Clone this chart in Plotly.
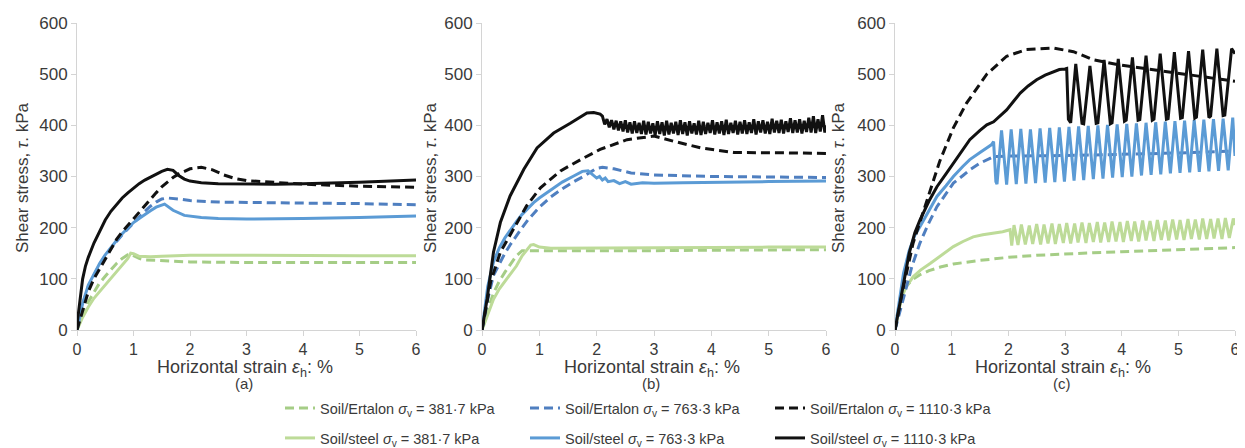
import plotly.graph_objects as go

# ---------------- data (strain %, shear stress kPa) ----------------
# Panel (a)
a_ert_382_x = [0, 0.1, 0.2, 0.3, 0.4, 0.5, 0.6, 0.7, 0.8, 0.9, 0.95, 1.0, 1.1, 1.2, 1.5, 2, 3, 4, 5, 6]
a_ert_382_y = [0, 30, 55, 75, 92, 105, 118, 130, 140, 147, 148, 145, 140, 137, 135, 133, 132, 132, 132, 132]
a_steel_382_x = [0, 0.1, 0.2, 0.3, 0.4, 0.5, 0.6, 0.7, 0.8, 0.9, 0.95, 1.0, 1.1, 1.3, 1.5, 2, 3, 4, 5, 6]
a_steel_382_y = [0, 25, 45, 62, 75, 88, 100, 112, 125, 140, 150, 149, 144, 143, 144, 146, 146, 145, 145, 145]
a_ert_763_x = [0, 0.1, 0.2, 0.3, 0.4, 0.5, 0.6, 0.7, 0.8, 0.9, 1.0, 1.1, 1.2, 1.3, 1.4, 1.5, 1.6, 1.8, 2.0, 2.5, 3, 4, 5, 6]
a_ert_763_y = [0, 50, 85, 108, 128, 145, 160, 173, 186, 198, 210, 222, 232, 242, 250, 256, 258, 256, 253, 250, 249, 248, 247, 245]
a_steel_763_x = [0, 0.1, 0.2, 0.3, 0.4, 0.5, 0.6, 0.7, 0.8, 0.9, 1.0, 1.1, 1.2, 1.3, 1.4, 1.5, 1.55, 1.7, 1.9, 2.2, 2.5, 3, 3.5, 4, 5, 6]
a_steel_763_y = [0, 52, 88, 110, 130, 147, 162, 175, 188, 200, 210, 218, 226, 233, 240, 245, 246, 234, 224, 220, 218, 217, 217, 218, 220, 223]
a_ert_1110_x = [0, 0.1, 0.2, 0.3, 0.4, 0.5, 0.6, 0.7, 0.8, 0.9, 1.0, 1.1, 1.2, 1.3, 1.4, 1.5, 1.6, 1.7, 1.8, 2.0, 2.2, 2.4, 2.6, 2.8, 3.0, 3.5, 4, 5, 6]
a_ert_1110_y = [0, 40, 75, 100, 120, 140, 160, 177, 192, 205, 217, 230, 243, 256, 268, 280, 290, 298, 305, 315, 318, 313, 303, 296, 292, 288, 285, 281, 279]
a_steel_1110_x = [0, 0.05, 0.1, 0.15, 0.2, 0.3, 0.4, 0.5, 0.6, 0.7, 0.8, 0.9, 1.0, 1.1, 1.2, 1.3, 1.4, 1.5, 1.6, 1.7, 1.8, 1.9, 2.0, 2.2, 2.5, 3, 3.5, 4, 4.5, 5, 6]
a_steel_1110_y = [10, 60, 100, 125, 142, 170, 194, 215, 232, 246, 258, 268, 278, 286, 293, 299, 305, 310, 314, 312, 302, 295, 291, 288, 286, 285, 285, 286, 287, 289, 293]

# Panel (b)
b_ert_382_x = [0, 0.1, 0.2, 0.3, 0.4, 0.5, 0.6, 0.7, 0.8, 1.0, 1.5, 2, 3, 4, 5, 6]
b_ert_382_y = [0, 40, 72, 95, 113, 130, 145, 155, 155, 154, 154, 155, 155, 156, 157, 157]
b_steel_382_x = [0, 0.1, 0.2, 0.3, 0.4, 0.5, 0.6, 0.7, 0.8, 0.85, 0.9, 1.0, 1.2, 1.5, 2, 3, 4, 5, 6]
b_steel_382_y = [0, 30, 60, 80, 95, 110, 125, 145, 160, 166, 167, 162, 160, 160, 160, 160, 161, 162, 162]
b_ert_763_x = [0, 0.1, 0.2, 0.3, 0.4, 0.5, 0.6, 0.7, 0.8, 0.9, 1.0, 1.2, 1.4, 1.6, 1.8, 2.0, 2.1, 2.3, 2.6, 3, 3.5, 4, 5, 6]
b_ert_763_y = [0, 60, 107, 130, 150, 168, 185, 200, 215, 228, 240, 260, 276, 290, 302, 316, 318, 315, 307, 303, 301, 300, 299, 298]
b_steel_763_x = [0, 0.1, 0.2, 0.3, 0.4, 0.5, 0.6, 0.7, 0.8, 0.9, 1.0, 1.2, 1.4, 1.6, 1.75, 1.85, 1.95, 2.0, 2.05, 2.1, 2.15, 2.2, 2.3, 2.4, 2.5, 2.6, 2.8, 3, 3.5, 4, 5, 6]
b_steel_763_y = [0, 85, 133, 160, 180, 197, 212, 226, 238, 249, 258, 274, 289, 301, 310, 311, 302, 297, 300, 293, 297, 290, 292, 286, 290, 285, 288, 287, 288, 289, 290, 291]
b_ert_1110_x = [0, 0.15, 0.32, 0.55, 0.78, 1.02, 1.37, 1.72, 2.06, 2.53, 3.0, 3.34, 3.81, 4.39, 4.97, 5.5, 6]
b_ert_1110_y = [0, 94, 152, 197, 243, 278, 311, 333, 353, 372, 379, 369, 356, 347, 347, 346, 345]
b_steel_1110_x = [0, 0.05, 0.09, 0.2, 0.32, 0.49, 0.73, 0.96, 1.25, 1.54, 1.83, 1.95, 2.06,
                  2.10, 2.14, 2.18, 2.22, 2.26, 2.30, 2.34, 2.38, 2.42, 2.46, 2.50, 2.54, 2.58, 2.62,
                  2.66, 2.70, 2.74, 2.78, 2.82, 2.86, 2.90, 2.94, 2.98, 3.02, 3.06, 3.10, 3.14, 3.18,
                  3.22, 3.26, 3.30, 3.34, 3.38, 3.42, 3.46, 3.50, 3.54, 3.58, 3.62, 3.66, 3.70, 3.74,
                  3.78, 3.82, 3.86, 3.90, 3.94, 3.98, 4.02, 4.06, 4.10, 4.14, 4.18, 4.22, 4.26, 4.30,
                  4.34, 4.38, 4.42, 4.46, 4.50, 4.54, 4.58, 4.62, 4.66, 4.70, 4.74, 4.78, 4.82, 4.86,
                  4.90, 4.94, 4.98, 5.02, 5.06, 5.10, 5.14, 5.18, 5.22, 5.26, 5.30, 5.34, 5.38, 5.42,
                  5.46, 5.50, 5.54, 5.58, 5.62, 5.66, 5.70, 5.74, 5.78, 5.82, 5.86, 5.90, 5.94, 5.98, 6.0]
b_steel_1110_y = [0, 30, 61, 152, 210, 262, 314, 356, 385, 404, 424, 425, 422,
                  418, 402, 412, 396, 410, 392, 409, 390, 408, 388, 410, 386, 406, 384,
                  408, 385, 405, 383, 409, 382, 407, 384, 404, 381, 408, 383, 406, 380,
                  409, 382, 405, 384, 407, 381, 410, 383, 406, 380, 408, 384, 404, 382,
                  409, 381, 407, 383, 405, 385, 410, 382, 406, 384, 408, 381, 411, 383,
                  405, 385, 409, 382, 407, 384, 410, 383, 406, 385, 412, 382, 408, 386,
                  410, 384, 407, 383, 413, 386, 409, 385, 411, 384, 408, 387, 414, 385,
                  410, 386, 412, 384, 409, 387, 415, 386, 418, 385, 412, 388, 420, 386, 400]

# Panel (c)
c_ert_382_x = [0, 0.05, 0.1, 0.15, 0.2, 0.3, 0.44, 0.6, 0.8, 1.03, 1.5, 2, 2.5, 3, 3.5, 4, 4.5, 5, 5.5, 6]
c_ert_382_y = [0, 35, 60, 75, 85, 98, 108, 116, 123, 129, 136, 142, 146, 149, 151, 153, 155, 157, 159, 161]
c_steel_382_x = [0, 0.05, 0.1, 0.15, 0.2, 0.32, 0.45, 0.62, 0.8, 1.03, 1.2, 1.38, 1.55, 1.74, 1.9, 2.03,
                 2.06, 2.10, 2.17, 2.23, 2.30, 2.37, 2.43, 2.50, 2.57, 2.63, 2.70, 2.77, 2.83, 2.90,
                 2.97, 3.03, 3.10, 3.17, 3.23, 3.30, 3.37, 3.43, 3.50, 3.57, 3.63, 3.70, 3.77, 3.83,
                 3.90, 3.97, 4.03, 4.10, 4.17, 4.23, 4.30, 4.37, 4.43, 4.50, 4.57, 4.63, 4.70, 4.77,
                 4.83, 4.90, 4.97, 5.03, 5.10, 5.17, 5.23, 5.30, 5.37, 5.43, 5.50, 5.57, 5.63, 5.70,
                 5.77, 5.83, 5.90, 5.97, 6.0]
c_steel_382_y = [0, 30, 55, 72, 85, 104, 117, 130, 145, 163, 173, 182, 186, 189, 192, 196,
                 165, 205, 166, 206, 167, 204, 168, 207, 167, 206, 169, 208, 168, 207,
                 170, 209, 169, 208, 171, 210, 170, 209, 172, 211, 171, 210, 172, 212,
                 173, 211, 172, 213, 174, 212, 173, 214, 175, 213, 174, 215, 176, 214,
                 175, 216, 177, 215, 176, 217, 178, 216, 177, 218, 178, 217, 179, 218,
                 178, 219, 180, 218, 205]
c_ert_763_x = [0, 0.1, 0.2, 0.3, 0.44, 0.6, 0.74, 0.9, 1.03, 1.2, 1.32, 1.5, 1.62, 1.74, 2, 2.5, 3, 3.5, 4, 4.5, 5, 5.5, 6]
c_ert_763_y = [0, 40, 85, 125, 170, 210, 241, 266, 287, 302, 313, 326, 333, 339, 340, 340, 341, 342, 343, 345, 346, 348, 350]
c_steel_763_x = [0, 0.05, 0.1, 0.15, 0.25, 0.35, 0.44, 0.6, 0.74, 0.9, 1.03, 1.2, 1.32, 1.5, 1.62, 1.7, 1.74,
                 1.78, 1.80, 1.88, 1.97, 2.05, 2.14, 2.22, 2.31, 2.39, 2.48, 2.56, 2.65, 2.73, 2.82,
                 2.90, 2.99, 3.07, 3.16, 3.24, 3.33, 3.41, 3.50, 3.58, 3.67, 3.75, 3.84, 3.92, 4.01,
                 4.09, 4.18, 4.26, 4.35, 4.43, 4.52, 4.60, 4.69, 4.77, 4.86, 4.94, 5.03, 5.11, 5.20,
                 5.28, 5.37, 5.45, 5.54, 5.62, 5.71, 5.79, 5.88, 5.96, 6.0]
c_steel_763_y = [0, 35, 75, 111, 155, 185, 202, 235, 261, 282, 300, 320, 333, 347, 355, 362, 368,
                 290, 285, 390, 284, 392, 285, 393, 286, 392, 287, 394, 288, 395, 289,
                 396, 290, 397, 292, 398, 293, 399, 295, 400, 296, 401, 298, 402, 299,
                 403, 300, 404, 302, 405, 303, 406, 304, 407, 306, 408, 307, 409, 308,
                 410, 309, 411, 310, 412, 311, 413, 312, 415, 340]
c_ert_1110_x = [0, 0.08, 0.15, 0.32, 0.56, 0.79, 1.03, 1.26, 1.62, 1.97, 2.32, 2.79, 3.15, 3.5, 3.97, 4.56, 5.15, 5.6, 6]
c_ert_1110_y = [0, 45, 85, 170, 250, 330, 395, 443, 500, 535, 548, 551, 544, 528, 518, 509, 499, 492, 486]
c_steel_1110_x = [0, 0.05, 0.1, 0.15, 0.25, 0.35, 0.44, 0.6, 0.74, 0.9, 1.03, 1.2, 1.32, 1.5, 1.62, 1.74, 1.85,
                  1.97, 2.1, 2.21, 2.35, 2.5, 2.65, 2.79, 2.9, 3.0, 3.03,
                  3.06, 3.10, 3.19, 3.30, 3.33, 3.44, 3.55, 3.58, 3.69, 3.80, 3.83, 3.94, 4.05, 4.08,
                  4.19, 4.29, 4.32, 4.43, 4.54, 4.57, 4.68, 4.79, 4.82, 4.93, 5.04, 5.07, 5.18, 5.29,
                  5.32, 5.43, 5.54, 5.57, 5.68, 5.79, 5.82, 5.94, 6.0]
c_steel_1110_y = [0, 30, 60, 91, 150, 190, 215, 252, 280, 305, 326, 352, 372, 390, 401, 407, 418,
                  430, 448, 463, 477, 489, 498, 505, 509, 510, 511,
                  412, 405, 520, 404, 403, 516, 404, 405, 528, 403, 405, 530, 408, 410,
                  533, 410, 411, 536, 410, 412, 540, 412, 413, 543, 414, 415, 545, 414,
                  416, 548, 415, 418, 550, 419, 420, 550, 540]

x_ticks = [0, 1, 2, 3, 4, 5, 6]
y_ticks = [0, 100, 200, 300, 400, 500, 600]
panel_labels = ["(a)", "(b)", "(c)"]
series_names = [
    "Soil/Ertalon <i>σ</i><sub>v</sub> = 381·7 kPa",
    "Soil/Ertalon <i>σ</i><sub>v</sub> = 763·3 kPa",
    "Soil/Ertalon <i>σ</i><sub>v</sub> = 1110·3 kPa",
    "Soil/steel <i>σ</i><sub>v</sub> = 381·7 kPa",
    "Soil/steel <i>σ</i><sub>v</sub> = 763·3 kPa",
    "Soil/steel <i>σ</i><sub>v</sub> = 1110·3 kPa",
]

# ---------------- styling ----------------
W, H = 1245, 448
OFF = 8  # the page body margin shifts the figure by 8 px
FONT = "Liberation Sans, Arial, sans-serif"
TXT = "#3a3a3a"
AXC = "#d4d4d4"
GREEN_S, GREEN_D = "#bddb98", "#a5cd86"
BLUE_S, BLUE_D = "#5b9bd5", "#4f7fc0"
BLACK = "#111111"
DASH = "9px,5px"


def px_x(sx):
    return (sx - OFF) / W


def px_y(sy):
    return 1 - (sy - OFF) / H


styles = [
    dict(color=GREEN_D, width=3, dash=DASH),
    dict(color=BLUE_D, width=3, dash=DASH),
    dict(color=BLACK, width=3, dash=DASH),
    dict(color=GREEN_S, width=3),
    dict(color=BLUE_S, width=3),
    dict(color=BLACK, width=3),
]

panels = [
    [(a_ert_382_x, a_ert_382_y), (a_ert_763_x, a_ert_763_y), (a_ert_1110_x, a_ert_1110_y),
     (a_steel_382_x, a_steel_382_y), (a_steel_763_x, a_steel_763_y), (a_steel_1110_x, a_steel_1110_y)],
    [(b_ert_382_x, b_ert_382_y), (b_ert_763_x, b_ert_763_y), (b_ert_1110_x, b_ert_1110_y),
     (b_steel_382_x, b_steel_382_y), (b_steel_763_x, b_steel_763_y), (b_steel_1110_x, b_steel_1110_y)],
    [(c_ert_382_x, c_ert_382_y), (c_ert_763_x, c_ert_763_y), (c_ert_1110_x, c_ert_1110_y),
     (c_steel_382_x, c_steel_382_y), (c_steel_763_x, c_steel_763_y), (c_steel_1110_x, c_steel_1110_y)],
]

# screen-pixel geometry of the three plot areas
x_pix = [(77, 416), (482, 826), (895, 1235)]
y0_pix, y600_pix = 330, 23

fig = go.Figure()
draw_order = [0, 3, 1, 4, 2, 5]
for p, data in enumerate(panels):
    xa = "x" if p == 0 else f"x{p+1}"
    ya = "y" if p == 0 else f"y{p+1}"
    for k in draw_order:
        xs, ys = data[k]
        fig.add_trace(go.Scatter(
            x=xs, y=ys, mode="lines", line=styles[k],
            name=series_names[k], xaxis=xa, yaxis=ya,
            showlegend=(p == 0),
            legend="legend" if k == 0 else f"legend{k+1}",
            hoverinfo="skip",
        ))

layout = dict(
    width=W, height=H, autosize=False,
    margin=dict(l=0, r=0, t=0, b=0, autoexpand=False),
    paper_bgcolor="white", plot_bgcolor="white",
    font=dict(family=FONT, color=TXT, size=16),
)
for p in range(3):
    sx = "" if p == 0 else str(p + 1)
    dom_x = [px_x(x_pix[p][0]), px_x(x_pix[p][1])]
    dom_y = [px_y(y0_pix), px_y(y600_pix)]
    common = dict(
        showgrid=False, zeroline=False, showline=True, linecolor=AXC, linewidth=1,
        ticks="outside", ticklen=5, tickcolor=AXC, fixedrange=True, automargin=False,
    )
    layout[f"xaxis{sx}"] = dict(domain=dom_x, range=[0, 6], tickvals=x_ticks,
                                tickfont=dict(size=16, color=TXT, family=FONT),
                                anchor=f"y{sx}", **common)
    layout[f"yaxis{sx}"] = dict(domain=dom_y, range=[0, 600], tickvals=y_ticks,
                                tickfont=dict(size=17, color=TXT, family=FONT),
                                anchor=f"x{sx}", **common)

annotations = []
ytitle_x = [22, 430, 838]
for p in range(3):
    cx = (x_pix[p][0] + x_pix[p][1]) / 2
    annotations.append(dict(
        text="Shear stress, <i>τ</i>. kPa", textangle=-90, x=px_x(ytitle_x[p]), y=px_y(178),
        xref="paper", yref="paper", showarrow=False, xanchor="center", yanchor="middle",
        font=dict(size=17, color=TXT, family=FONT),
    ))
    annotations.append(dict(
        text="Horizontal strain <i>ε</i><sub>h</sub>: %", x=px_x(cx - 2), y=px_y(368),
        xref="paper", yref="paper", showarrow=False, xanchor="center", yanchor="middle",
        font=dict(size=18, color=TXT, family=FONT),
    ))
    annotations.append(dict(
        text=panel_labels[p], x=px_x(cx - 3), y=px_y(383),
        xref="paper", yref="paper", showarrow=False, xanchor="center", yanchor="middle",
        font=dict(size=15, color=TXT, family=FONT),
    ))
layout["annotations"] = annotations

leg_x = [280, 525, 770]
leg_y = [408, 438]
for k in range(6):
    key = "legend" if k == 0 else f"legend{k+1}"
    col, row = k % 3, k // 3
    layout[key] = dict(
        x=px_x(leg_x[col]), y=px_y(leg_y[row]), xanchor="left", yanchor="middle",
        bgcolor="rgba(0,0,0,0)", borderwidth=0, orientation="h",
        font=dict(size=14.5, color=TXT, family=FONT),
    )

fig.update_layout(**layout)
fig.write_html("out.html")
